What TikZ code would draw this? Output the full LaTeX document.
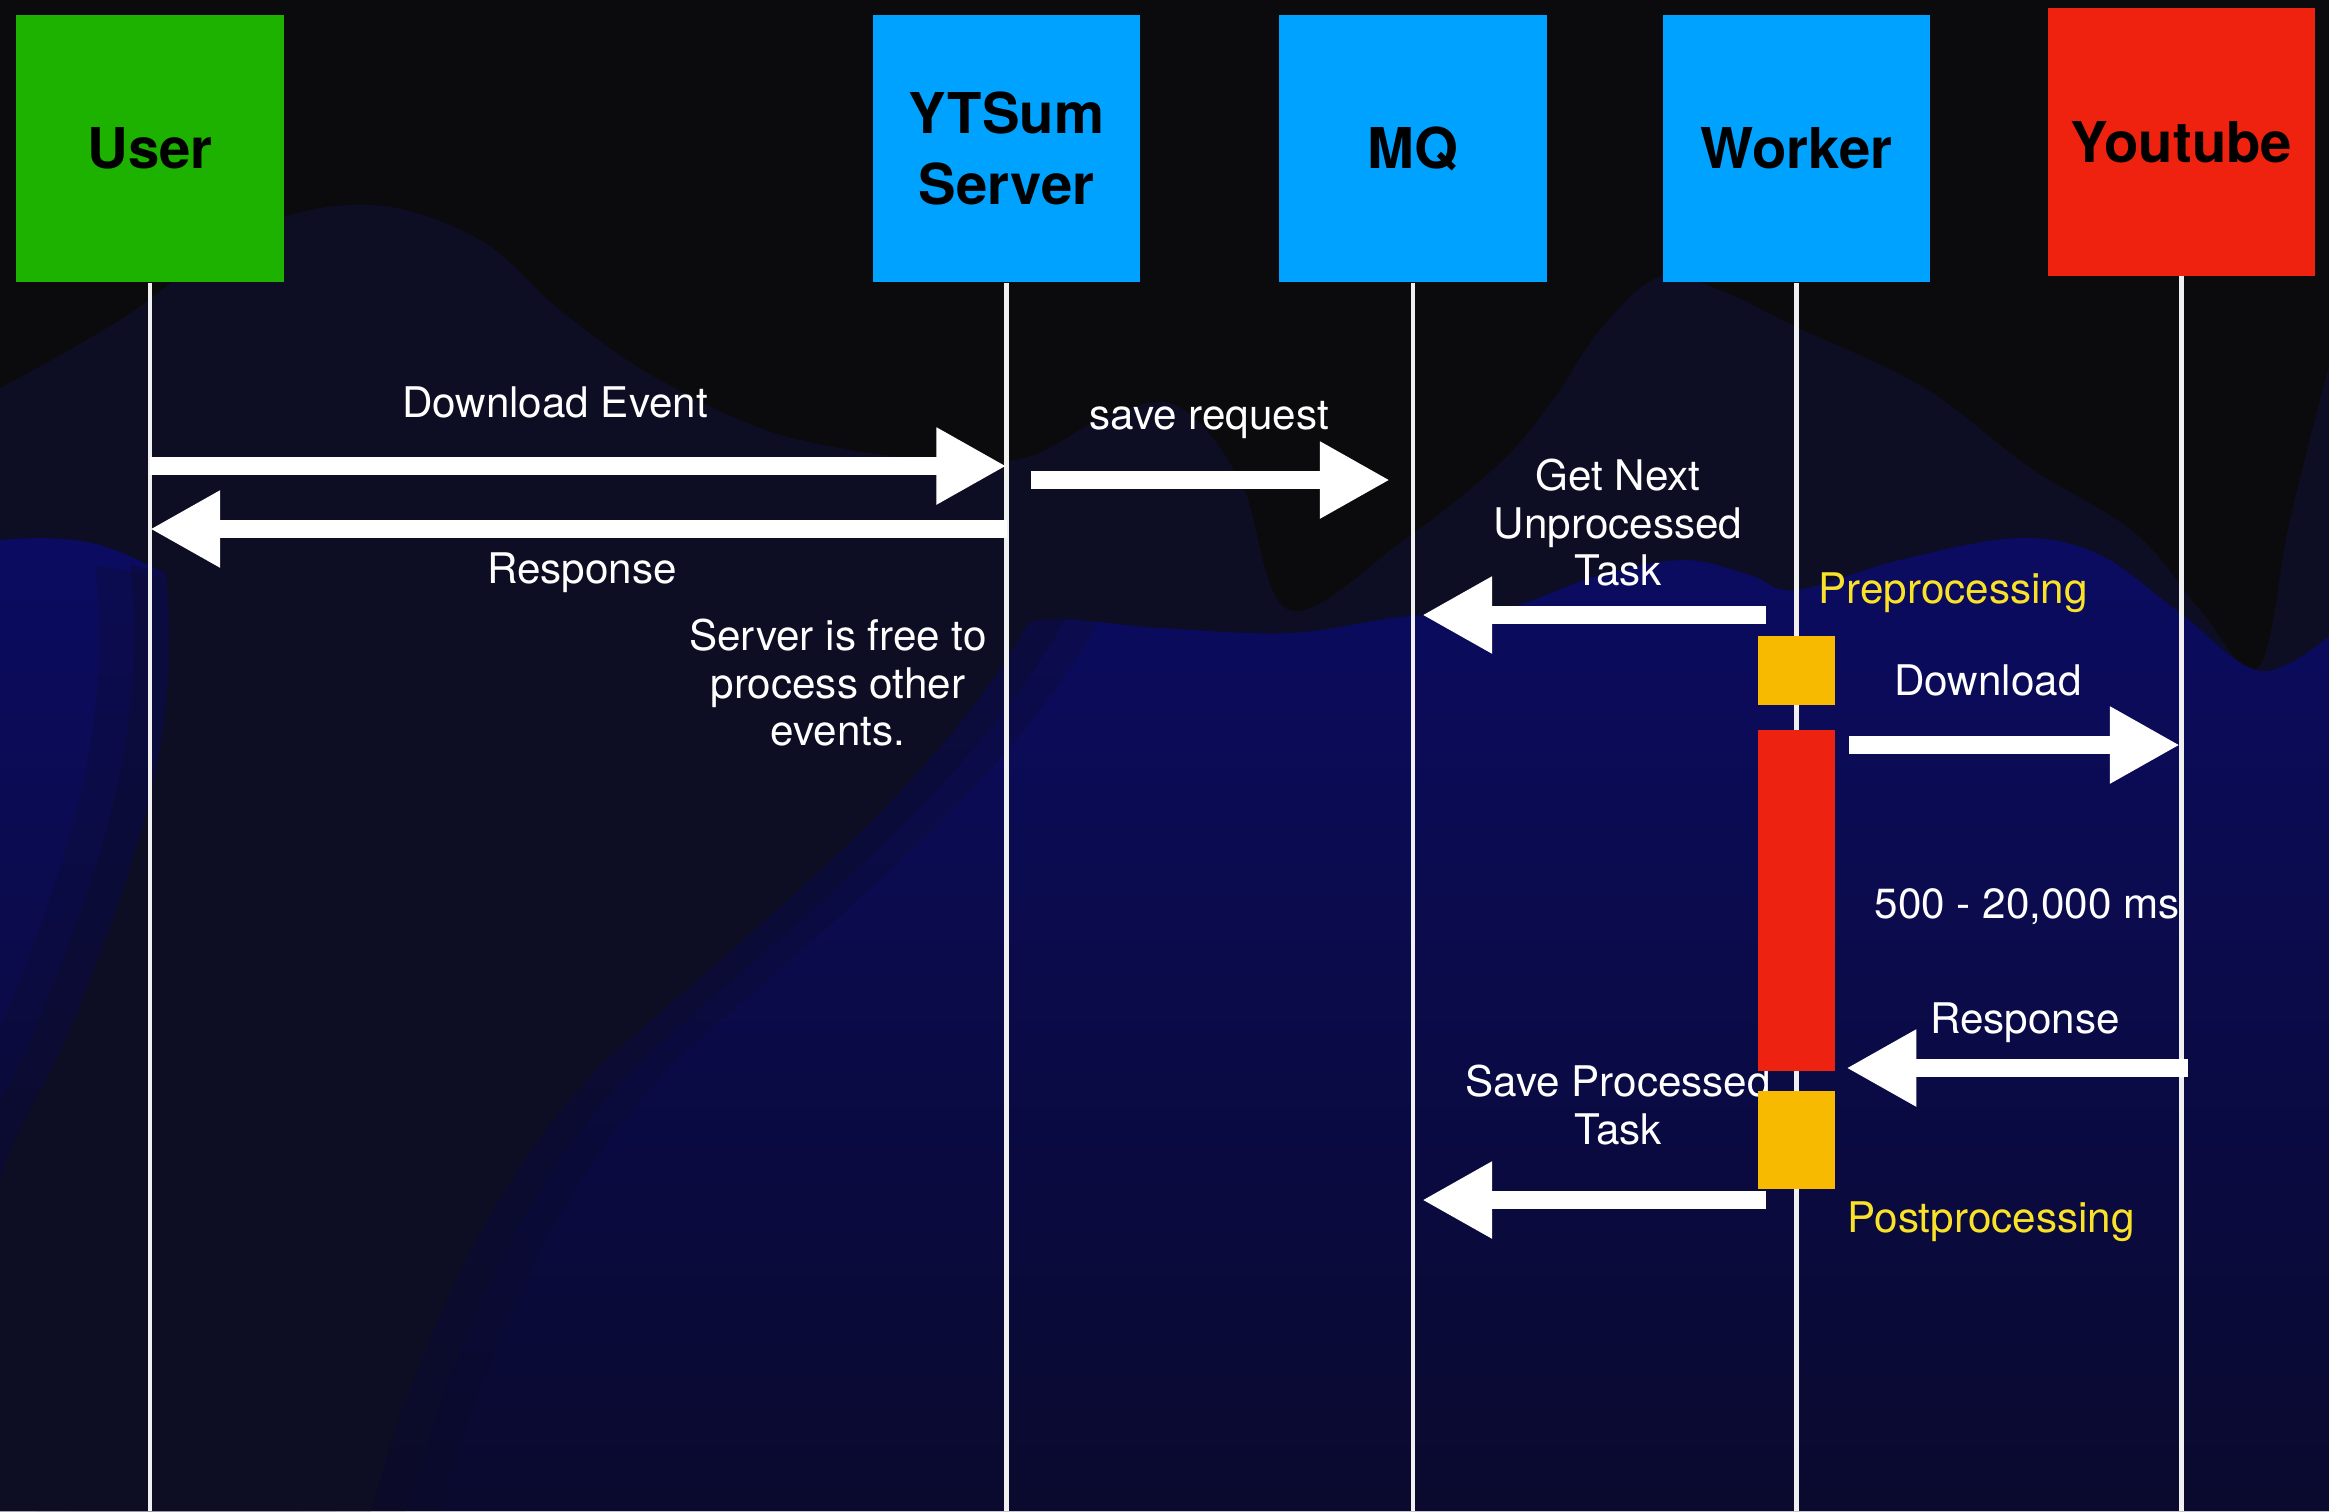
\documentclass[tikz,border=0pt]{standalone}
\usepackage{fontspec}
\setmainfont{TeX Gyre Heros}
\usepackage{tikz}
\usetikzlibrary{arrows.meta, calc}
\definecolor{bgBlack}{RGB}{11,11,14}
\definecolor{hillDark}{RGB}{13,13,36}
\definecolor{hillBlue}{RGB}{11,11,98}
\definecolor{hillDeep}{RGB}{10,10,46}
\definecolor{actorGreen}{RGB}{29,177,0}
\definecolor{actorBlue}{RGB}{0,162,255}
\definecolor{actorRed}{RGB}{238,34,14}
\definecolor{barYellow}{RGB}{248,186,0}
\definecolor{barRed}{RGB}{238,34,17}
\definecolor{noteYellow}{RGB}{250,226,40}

\begin{document}
\begin{tikzpicture}[
  x=0.01cm, y=-0.01cm,
  actor/.style={fill=#1, text=black, minimum width=2.67cm, minimum height=2.67cm,
    inner sep=0pt, align=center, font=\fontsize{16}{20.2}\selectfont\bfseries},
  lifeline/.style={draw=white!94!black, line width=0.045cm},
  bar/.style={fill=#1, minimum width=0.76cm, inner sep=0pt},
  msg/.style={draw=white, line width=0.18cm, -{Triangle[length=0.7cm, width=0.72cm]}},
  lbl/.style={text=white, inner sep=0pt, align=center, font=\fontsize{12}{13.6}\selectfont},
]
  \useasboundingbox (0,0) rectangle (2329,1511);

  % backdrop
  \begin{scope}
    \clip (0,0) rectangle (2329,1511);
    \fill[bgBlack] (0,0) rectangle (2329,1511);
    \fill[hillDark] plot[smooth, tension=0.6] coordinates {
      (0,388) (120,320) (250,230) (371,205) (480,240) (560,310) (660,380)
      (800,440) (1000,462) (1100,420) (1175,405) (1240,480) (1289,610)
      (1404,540) (1500,463) (1553,400) (1600,330) (1659,277) (1720,290)
      (1796,327) (1923,387) (2029,467) (2135,533) (2200,610) (2258,668)
      (2290,520) (2329,365)}
      -- (2329,1511) -- (0,1511) -- cycle;
    \shade[top color=hillBlue, bottom color=hillDeep] plot[smooth, tension=0.6] coordinates {
      (0,540) (100,545) (250,610) (446,646) (700,655) (950,650) (1040,620)
      (1160,628) (1290,633) (1400,617) (1500,610) (1600,575) (1685,560)
      (1750,575) (1796,590) (1900,560) (2018,538) (2100,555) (2180,613)
      (2260,671) (2329,636)}
      -- (2329,1511) -- (0,1511) -- cycle;
    \foreach \dx/\op in {-70/0.25, -35/0.35, 35/0.35, 70/0.25, 0/1}
      \fill[hillDark, opacity=\op, xshift=\dx*0.01cm]
        (165,565) .. controls (185,740) and (130,880) .. (70,1030)
        .. controls (40,1100) and (0,1150) .. (0,1190) -- (0,1511) -- (371,1511)
        .. controls (430,1300) and (520,1130) .. (640,1030)
        .. controls (800,890) and (960,760) .. (1040,600)
        .. controls (800,630) and (400,610) .. (165,565) -- cycle;
  \end{scope}

  \node[actor=actorGreen] (usr) at (150,148.5) {User};
  \node[actor=actorBlue] (srv) at (1006.5,148.5) {YTSum\\Server};
  \node[actor=actorBlue] (mq) at (1413,148.5) {MQ};
  \node[actor=actorBlue] (wrk) at (1796.5,148.5) {Worker};
  \node[actor=actorRed] (yt) at (2181.5,142) {Youtube};

  \node[lbl, anchor=base] (evtLbl) at (555,417) {Download Event};
  \node[lbl, anchor=base] (respLbl) at (582,583) {Response};
  \node[lbl, anchor=north] (freeLbl) at (838,618) {Server is free to\\process other\\events.};
  \node[lbl, anchor=base] (reqLbl) at (1209,429) {save request};
  \node[lbl, anchor=north] (getLbl) at (1618,458) {Get Next\\Unprocessed\\Task};
  \node[lbl, anchor=base, text=noteYellow] (preLbl) at (1953,603) {Preprocessing};
  \node[lbl, anchor=base] (dlLbl) at (1988,695) {Download};
  \node[lbl, anchor=base west] (timeLbl) at (1874,918) {500 - 20,000 ms};
  \node[lbl, anchor=base] (ytRespLbl) at (2025,1033) {Response};
  \node[lbl, anchor=north] (saveLbl) at (1618,1064) {Save Processed\\Task};
  \node[lbl, anchor=base, text=noteYellow] (postLbl) at (1991,1232) {Postprocessing};

  \foreach \who in {usr, srv, mq, wrk, yt}
    \draw[lifeline] (\who.south) -- (\who.south |- 0,1511);

  \node[bar=barYellow, minimum height=0.69cm] (pre) at (wrk |- 0,670.5) {};
  \node[bar=barRed, minimum height=3.41cm] (dl) at (wrk |- 0,900.5) {};
  \node[bar=barYellow, minimum height=0.98cm] (post) at (wrk |- 0,1140) {};

  \draw[msg] (usr |- 0,466) -- (srv |- 0,466);
  \draw[msg] (srv |- 0,529) -- (usr |- 0,529);
  \draw[msg] ($(srv |- 0,480)+(24,0)$) -- ($(mq |- 0,480)+(-23,0)$);
  \draw[msg] ($(wrk |- 0,615)+(-31,0)$) -- ($(mq |- 0,615)+(9,0)$);
  \draw[msg] ($(dl.east |- 0,745)+(14,0)$) -- ($(yt |- 0,745)+(-1.5,0)$);
  \draw[msg] ($(yt |- 0,1068)+(6.5,0)$) -- ($(dl.east |- 0,1068)+(11,0)$);
  \draw[msg] ($(wrk |- 0,1200)+(-31,0)$) -- ($(mq |- 0,1200)+(9,0)$);
\end{tikzpicture}
\end{document}
